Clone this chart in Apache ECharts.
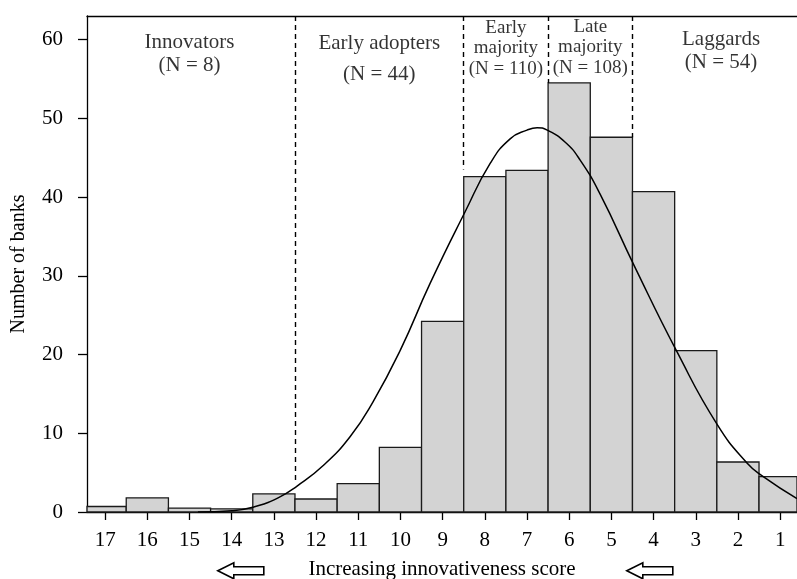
<!DOCTYPE html>
<html>
<head>
<meta charset="utf-8">
<script src="https://cdn.jsdelivr.net/npm/echarts@6/dist/echarts.min.js"></script>
<style>
  html, body { margin: 0; padding: 0; background: #fff; }
  #main { width: 797px; height: 579px; }
</style>
</head>
<body>
<div id="main"></div>
<script>
// innovativeness score (17 = most innovative) -> number of banks
var scores = [17, 16, 15, 14, 13, 12, 11, 10, 9, 8, 7, 6, 5, 4, 3, 2, 1];
var banks  = [0.7, 1.8, 0.5, 0.4, 2.3, 1.65, 3.6, 8.2, 24.2, 42.6, 43.4, 54.5, 47.6, 40.7, 20.5, 6.35, 4.5];

// fitted curve
var curveX = [14.8, 14.0, 13.5, 12.9, 12.45, 11.83, 11.19, 10.65, 10.0, 9.3, 8.47, 7.87, 7.4, 7.0, 6.76, 6.52, 6.1, 5.74, 5.27, 4.46, 3.44, 2.49, 1.78, 1.4, 0.6];
var curveY = [0.0, 0.15, 0.6, 1.8, 3.3, 5.9, 9.6, 14.0, 20.6, 29.0, 38.1, 44.3, 47.4, 48.5, 48.8, 48.5, 47.0, 44.7, 40.4, 31.3, 20.3, 11.1, 6.2, 4.5, 1.7];

// adopter category boundaries (dashed lines) and where they stop
var cutPoints = [12.5, 8.5, 6.5, 4.5];
var cutEnds   = [3.6, 43.5, 54.5, 47.6];

// category labels
var groupNames = ['Innovators', 'Early adopters', 'Early\nmajority', 'Late\nmajority', 'Laggards'];
var groupN     = [8, 44, 110, 108, 54];
var groupX     = [15.0, 10.5, 7.5, 5.5, 2.4];
var groupY     = [58.2, 57.6, 58.9, 59.0, 58.6];

var yTicks = [0, 10, 20, 30, 40, 50, 60];

var serif = 'Liberation Serif';
var ink = '#000';

var chart = echarts.init(document.getElementById('main'));

var barData = scores.map(function (s, i) { return [s, banks[i]]; });
var curveData = curveX.map(function (x, i) { return [x, curveY[i]]; });

var cutLines = cutPoints.map(function (c, i) {
  return [{ coord: [c, 63] }, { coord: [c, cutEnds[i]] }];
});

var labelData = groupNames.map(function (n, i) {
  var small = n.indexOf('majority') >= 0;
  var lh = small ? 20.5 : (i == 1 ? 31 : 23);
  return {
    value: [groupX[i], groupY[i]],
    name: n + '\n(N = ' + groupN[i] + ')',
    label: { fontSize: small ? 19 : 21, lineHeight: lh }
  };
});

function renderBar(params, api) {
  var x = api.value(0), v = api.value(1);
  var a = api.coord([x + 0.5, v]);   // inverse axis: higher score on the left
  var b = api.coord([x - 0.5, 0]);
  var cs = params.coordSys;
  var rect = echarts.graphic.clipRectByRect(
    { x: a[0], y: a[1], width: b[0] - a[0], height: b[1] - a[1] },
    { x: cs.x, y: cs.y, width: cs.width, height: cs.height }
  );
  if (!rect) return;
  return {
    type: 'rect',
    shape: rect,
    style: { fill: '#d3d3d3', stroke: '#1a1a1a', lineWidth: 1.3 }
  };
}

// hollow left arrow used under the x axis
function arrow(left) {
  return {
    type: 'polygon',
    left: left, top: 562,
    shape: { points: [[0, 8], [16, 0], [16, 4], [46, 4], [46, 12], [16, 12], [16, 16]] },
    style: { fill: '#fff', stroke: ink, lineWidth: 1.6 }
  };
}

chart.setOption({
  animation: false,
  backgroundColor: '#fff',
  grid: { left: 87, right: 0, top: 16, bottom: 67, outerBoundsMode: 'none' },
  xAxis: [
    {
      type: 'value',
      inverse: true,
      min: 0.6,
      max: 17.43,
      position: 'bottom',
      name: 'Increasing innovativeness score',
      nameLocation: 'middle',
      nameGap: 47,
      nameTextStyle: { fontFamily: serif, fontSize: 21, color: ink },
      axisLine: { show: true, lineStyle: { color: ink, width: 1.3 } },
      axisTick: { show: true, length: 8, lineStyle: { color: ink, width: 1.3 }, customValues: scores },
      axisLabel: { fontFamily: serif, fontSize: 21, color: ink, margin: 18, customValues: scores },
      splitLine: { show: false }
    },
    {
      // top border of the frame
      type: 'value',
      inverse: true,
      min: 0.6,
      max: 17.43,
      position: 'top',
      axisLine: { show: true, lineStyle: { color: ink, width: 1.3 } },
      axisTick: { show: false },
      axisLabel: { show: false },
      splitLine: { show: false }
    }
  ],
  yAxis: {
    type: 'value',
    min: 0,
    max: 63,
    name: 'Number of banks',
    nameLocation: 'middle',
    nameGap: 58,
    nameTextStyle: { fontFamily: serif, fontSize: 20, color: ink },
    axisLine: { show: true, lineStyle: { color: ink, width: 1.3 } },
    axisTick: { show: true, length: 9, lineStyle: { color: ink, width: 1.3 }, customValues: yTicks },
    axisLabel: { fontFamily: serif, fontSize: 21, color: ink, margin: 24, customValues: yTicks },
    splitLine: { show: false }
  },
  series: [
    {
      type: 'custom',
      renderItem: renderBar,
      data: barData,
      z: 2
    },
    {
      type: 'line',
      data: curveData,
      smooth: 0.5,
      symbol: 'none',
      lineStyle: { color: ink, width: 1.5 },
      z: 3,
      markLine: {
        silent: true,
        symbol: 'none',
        label: { show: false },
        lineStyle: { color: ink, width: 1.4, type: [5, 4] },
        data: cutLines
      }
    },
    {
      type: 'scatter',
      data: labelData,
      symbolSize: 0,
      silent: true,
      z: 4,
      label: {
        show: true,
        position: 'inside',
        formatter: '{b}',
        fontFamily: serif,
        color: ink,
        align: 'center',
        verticalAlign: 'middle'
      }
    }
  ],
  graphic: [arrow(217), arrow(626)]
});
</script>
</body>
</html>
